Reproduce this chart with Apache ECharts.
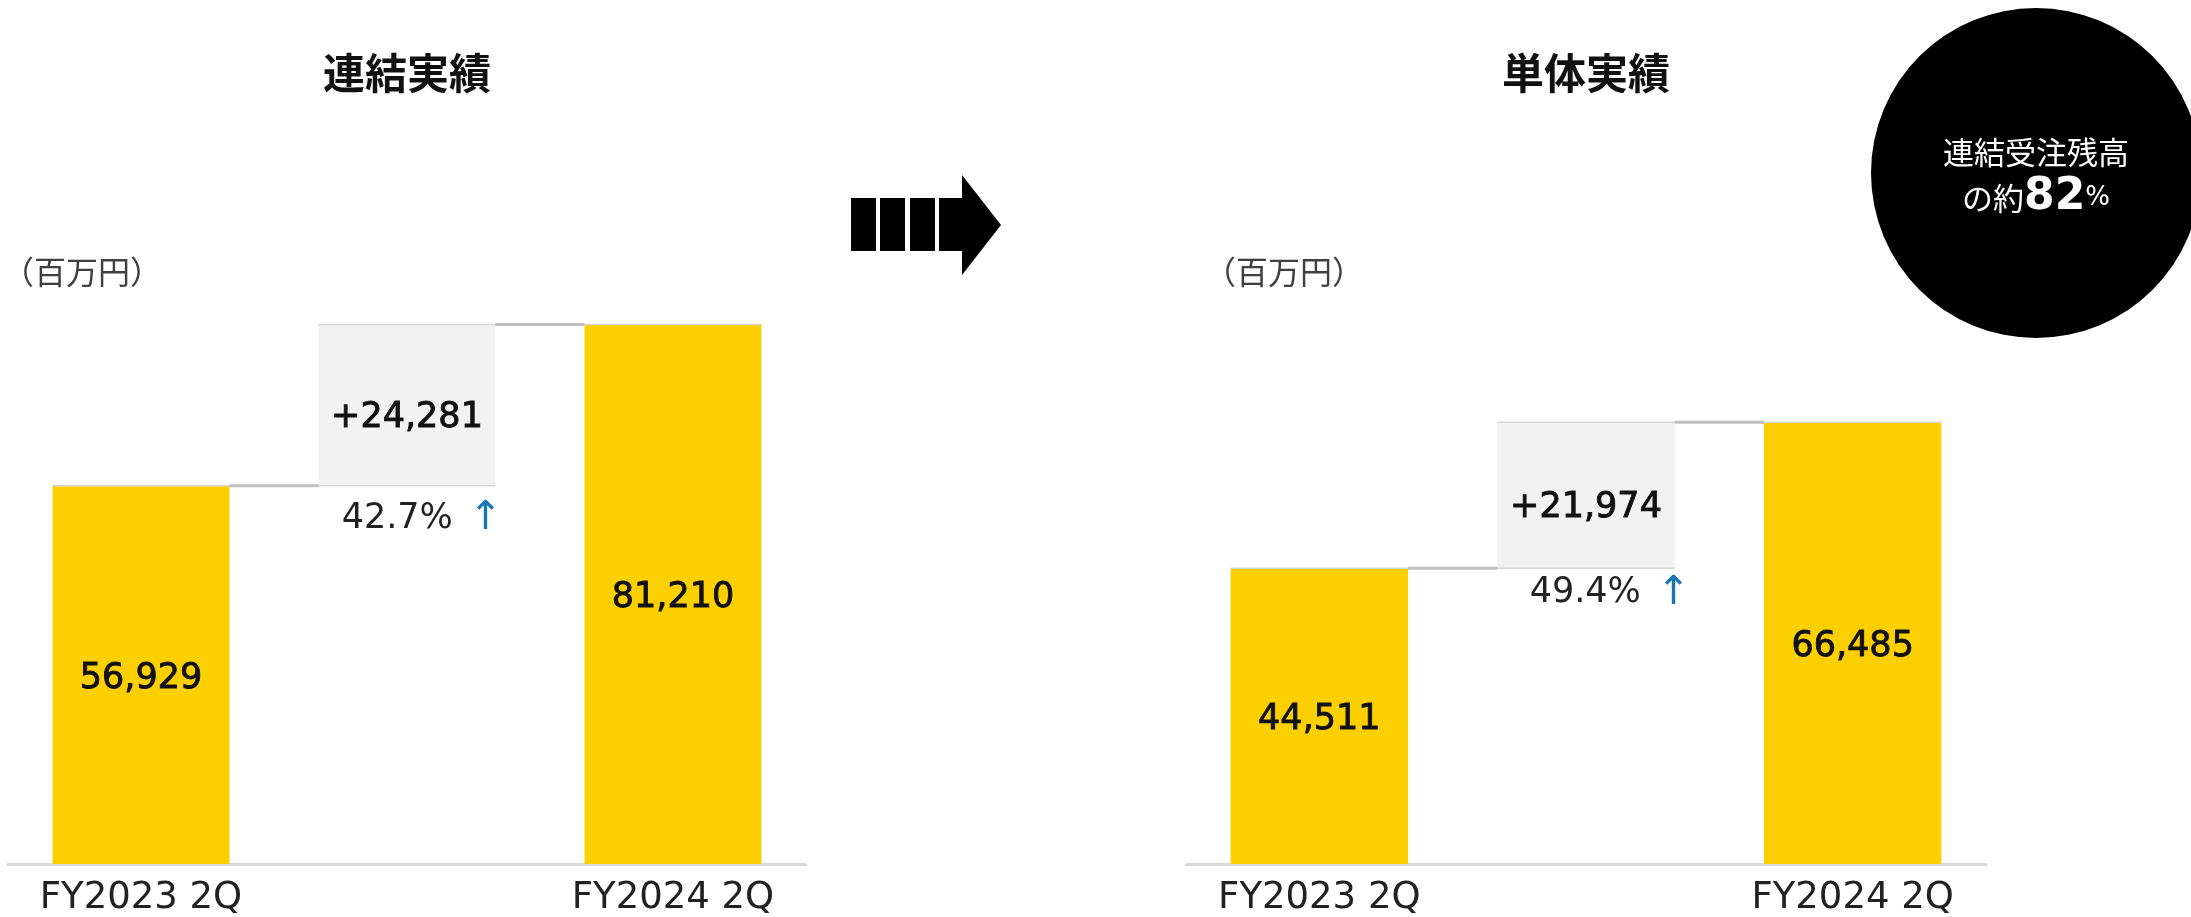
<!DOCTYPE html>
<html>
<head>
<meta charset="utf-8">
<script src="https://cdn.jsdelivr.net/npm/echarts@6/dist/echarts.min.js"></script>
<style>
  html, body { margin: 0; padding: 0; background: #fff; }
  #main { width: 2191px; height: 917px; }
</style>
</head>
<body>
<div id="main"></div>
<script>
  // データ
  const categories = ['FY2023 2Q', '', 'FY2024 2Q'];
  const consolidated = [56929, 81210];
  const consolidatedDiff = 24281;
  const consolidatedRate = '42.7%';
  const standalone = [44511, 66485];
  const standaloneDiff = 21974;
  const standaloneRate = '49.4%';
  const chartTitles = ['連結実績', '単体実績'];

  const CJK = '"Noto Sans CJK JP", sans-serif';
  const LATIN = '"DejaVu Sans", "Noto Sans CJK JP", sans-serif';
  const YELLOW = '#fcd000';
  const GRAY_BOX = '#f2f2f2';
  const BAR_RATIO = 0.665;

  const fmt = v => v.toLocaleString('en-US');

  function buildSeries(idx, vals, diff, rate, rateDist, rateOffset) {
    const stack = 'w' + idx;
    return [
      {
        // 透明の土台
        type: 'bar', stack: stack, xAxisIndex: idx, yAxisIndex: idx,
        barWidth: (BAR_RATIO * 100) + '%',
        itemStyle: { color: 'transparent' },
        data: [0, vals[0], 0],
        label: {
          show: true, position: 'insideTop', distance: rateDist, offset: [rateOffset, 0],
          formatter: p => p.dataIndex === 1 ? '{t|' + rate + '}{s|}{a|↑}' : '',
          rich: {
            t: { fontFamily: LATIN, fontSize: 35, color: '#222', verticalAlign: 'middle' },
            s: { width: 16 },
            a: { fontFamily: LATIN, fontSize: 40, color: '#1a75b5', verticalAlign: 'middle' }
          }
        },
        silent: true
      },
      {
        type: 'bar', stack: stack, xAxisIndex: idx, yAxisIndex: idx,
        barWidth: (BAR_RATIO * 100) + '%',
        data: [
          { value: vals[0], itemStyle: { color: YELLOW } },
          { value: diff, itemStyle: { color: GRAY_BOX }, label: { offset: [0, 13] } },
          { value: vals[1], itemStyle: { color: YELLOW } }
        ],
        label: {
          show: true, position: 'inside', offset: [0, 4],
          fontFamily: LATIN, fontSize: 35, color: '#111',
          textBorderColor: '#111', textBorderWidth: 0.9,
          formatter: p => (p.dataIndex === 1 ? '+' : '') + fmt(p.value)
        }
      },
      {
        // 段差をつなぐ線
        type: 'custom', xAxisIndex: idx, yAxisIndex: idx, z: 5, silent: true,
        data: [[0, vals[0]], [1, vals[1]]],
        renderItem: (params, api) => {
          const p = api.coord([api.value(0), api.value(1)]);
          const band = api.size([1, 0])[0];
          const half = band * BAR_RATIO / 2;
          return {
            type: 'group',
            children: [
              {
                type: 'line',
                shape: { x1: p[0] - half, y1: p[1], x2: p[0] + band + half, y2: p[1] },
                style: { stroke: '#d6d6d6', lineWidth: 1.5 }
              },
              {
                type: 'line',
                shape: { x1: p[0] + half, y1: p[1], x2: p[0] + band - half, y2: p[1] },
                style: { stroke: '#bfbfbf', lineWidth: 3 }
              }
            ]
          };
        }
      }
    ];
  }

  const grids = [
    { left: 8, width: 798, top: 266, bottom: 52 },
    { left: 1186, width: 800, top: 266, bottom: 52 }
  ];

  const xAxes = grids.map((g, i) => ({
    type: 'category', gridIndex: i, data: categories,
    axisTick: { show: false },
    axisLine: { lineStyle: { color: '#d9d9d9', width: 3 } },
    axisLabel: { fontFamily: LATIN, fontSize: 37, color: '#222', margin: 16, interval: 0 }
  }));

  const yAxes = grids.map((g, i) => ({
    type: 'value', gridIndex: i, min: 0, max: 90000, show: false,
    splitLine: { show: false }
  }));

  const chart = echarts.init(document.getElementById('main'));
  chart.setOption({
    backgroundColor: '#fff',
    animation: false,
    grid: grids,
    xAxis: xAxes,
    yAxis: yAxes,
    series: [
      ...buildSeries(0, consolidated, consolidatedDiff, consolidatedRate, 13, 15),
      ...buildSeries(1, standalone, standaloneDiff, standaloneRate, 5, 24)
    ],
    graphic: [
      { type: 'text', x: 407, y: 73, style: { text: chartTitles[0], font: 'bold 42px ' + CJK, fill: '#111', align: 'center', verticalAlign: 'middle' } },
      { type: 'text', x: 1586, y: 73, style: { text: chartTitles[1], font: 'bold 42px ' + CJK, fill: '#111', align: 'center', verticalAlign: 'middle' } },
      { type: 'text', x: 2, y: 272, style: { text: '（百万円）', font: '32px ' + CJK, fill: '#404040', verticalAlign: 'middle' } },
      { type: 'text', x: 1204, y: 272, style: { text: '（百万円）', font: '32px ' + CJK, fill: '#404040', verticalAlign: 'middle' } },
      // 矢印
      { type: 'rect', shape: { x: 851, y: 198, width: 25, height: 53 }, style: { fill: '#000' } },
      { type: 'rect', shape: { x: 880, y: 198, width: 25, height: 53 }, style: { fill: '#000' } },
      { type: 'rect', shape: { x: 910, y: 198, width: 25, height: 53 }, style: { fill: '#000' } },
      { type: 'polygon', shape: { points: [[939, 198], [962, 198], [962, 175], [1001, 225], [962, 275], [962, 251], [939, 251]] }, style: { fill: '#000' } },
      // 丸
      { type: 'circle', shape: { cx: 2036, cy: 173, r: 165 }, style: { fill: '#000' } },
      { type: 'text', x: 2036, y: 152, style: { text: '連結受注残高', font: '31px ' + CJK, fill: '#fff', align: 'center', verticalAlign: 'middle' } },
      {
        type: 'text', x: 2036, y: 198,
        style: {
          text: '{a|の約}{b|82}{c|%}', align: 'center', verticalAlign: 'middle', fill: '#fff',
          rich: {
            a: { fontFamily: CJK, fontSize: 31, fill: '#fff' },
            b: { fontFamily: LATIN, fontSize: 44, fontWeight: 'bold', fill: '#fff' },
            c: { fontFamily: LATIN, fontSize: 26, fill: '#fff' }
          }
        }
      }
    ]
  });
</script>
</body>
</html>
